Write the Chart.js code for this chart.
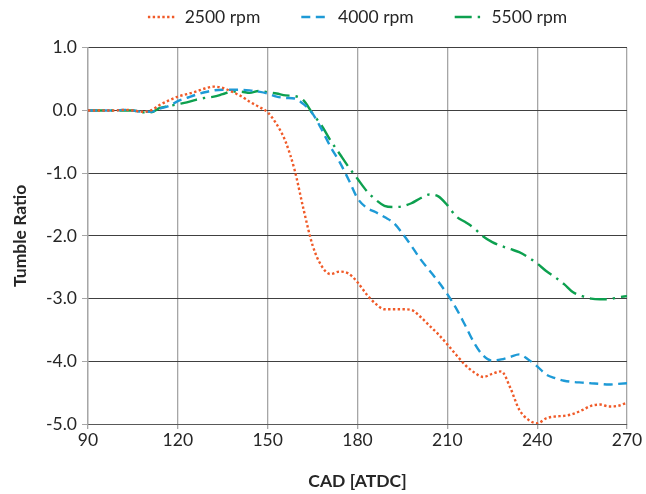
<!DOCTYPE html>
<html>
<head>
<meta charset="utf-8">
<script src="https://cdn.jsdelivr.net/npm/chart.js@4/dist/chart.umd.min.js"></script>
<style>
html,body{margin:0;padding:0;background:#ffffff;}
#wrap{width:646px;height:494px;}
</style>
</head>
<body>
<div id="wrap"><canvas id="c" width="646" height="494"></canvas></div>
<script>
// CAD [ATDC] sample positions (degrees)
const cad = [
  90, 93, 96, 99, 102, 105, 108, 111, 114, 117,
  120, 123, 126, 129, 132, 135, 138, 141, 144, 147,
  150, 153, 156, 159, 162, 165, 168, 171, 174, 177,
  180, 183, 186, 189, 192, 195, 198, 201, 204, 207,
  210, 213, 216, 219, 222, 225, 228, 231, 234, 237,
  240, 243, 246, 249, 252, 255, 258, 261, 264, 267,
  270
];
const tumble2500 = [
  0, 0, 0, 0, 0.01, 0, -0.02, 0, 0.09, 0.16,
  0.22, 0.26, 0.30, 0.35, 0.38, 0.36, 0.30, 0.23, 0.14, 0.06,
  -0.03, -0.22, -0.50, -0.95, -1.58, -2.15, -2.48, -2.61, -2.57, -2.60,
  -2.74, -2.93, -3.08, -3.17, -3.17, -3.17, -3.18, -3.29, -3.43, -3.57,
  -3.73, -3.90, -4.06, -4.18, -4.25, -4.20, -4.16, -4.42, -4.77, -4.93,
  -4.99, -4.91, -4.88, -4.87, -4.84, -4.78, -4.71, -4.69, -4.72, -4.71,
  -4.66
];
const tumble4000 = [
  0, 0, 0, 0, 0.01, 0, -0.02, -0.02, 0.03, 0.07,
  0.15, 0.20, 0.25, 0.29, 0.32, 0.33, 0.33, 0.33, 0.32, 0.30,
  0.27, 0.22, 0.20, 0.19, 0.10, -0.05, -0.30, -0.58, -0.82, -1.10,
  -1.40, -1.55, -1.62, -1.70, -1.79, -1.96, -2.16, -2.37, -2.55, -2.73,
  -2.93, -3.16, -3.43, -3.71, -3.91, -3.99, -3.97, -3.93, -3.89, -3.97,
  -4.08, -4.21, -4.27, -4.31, -4.33, -4.34, -4.35, -4.36, -4.37, -4.36,
  -4.35
];
const tumble5500 = [
  0, 0, 0, 0, 0, 0, -0.03, -0.03, 0.04, 0.07,
  0.10, 0.13, 0.17, 0.20, 0.22, 0.26, 0.30, 0.30, 0.28, 0.31,
  0.29, 0.27, 0.24, 0.23, 0.16, -0.05, -0.24, -0.48, -0.69, -0.90,
  -1.09, -1.28, -1.42, -1.52, -1.54, -1.53, -1.48, -1.40, -1.34, -1.37,
  -1.51, -1.69, -1.78, -1.88, -2.01, -2.10, -2.16, -2.21, -2.26, -2.34,
  -2.44, -2.56, -2.66, -2.77, -2.90, -2.96, -3.00, -3.01, -3.01, -2.98,
  -2.96
];
const seriesLabels = ['2500 rpm', '4000 rpm', '5500 rpm'];
const xTickValues = [90, 120, 150, 180, 210, 240, 270];
const yTickValues = [1, 0, -1, -2, -3, -4, -5];
const xTitle = 'CAD [ATDC]';
const yTitle = 'Tumble Ratio';

const FONT = 'Lato, "Open Sans", "DejaVu Sans", sans-serif';
const FS = 17.5;
const TEXT = '#262626';

function pts(ys) { return cad.map((x, i) => ({ x: x, y: ys[i] })); }

const datasets = [
  { label: seriesLabels[0], data: pts(tumble2500), borderColor: '#F05A28', borderWidth: 2.4, borderDash: [2.4, 2.4] },
  { label: seriesLabels[1], data: pts(tumble4000), borderColor: '#1E9AD6', borderWidth: 2.4, borderDash: [9, 5.5] },
  { label: seriesLabels[2], data: pts(tumble5500), borderColor: '#0DA04F', borderWidth: 2.4, borderDash: [17, 6, 2.4, 6] }
].map(d => Object.assign(d, {
  pointRadius: 0, pointHoverRadius: 0, fill: false,
  cubicInterpolationMode: 'monotone', borderCapStyle: 'butt', backgroundColor: d.borderColor
}));

new Chart(document.getElementById('c'), {
  type: 'line',
  data: { datasets: datasets },
  options: {
    responsive: false,
    animation: false,
    events: [],
    layout: { padding: { top: -32.75, right: 19, bottom: 0, left: 0 } },
    plugins: {
      tooltip: { enabled: false },
      legend: {
        display: true,
        position: 'top',
        fullSize: false,
        labels: {
          usePointStyle: true,
          pointStyle: 'line',
          pointStyleWidth: 28,
          padding: 41,
          color: TEXT,
          font: { family: FONT, size: FS },
          generateLabels: (chart) => chart.data.datasets.map((ds, i) => ({
            text: ds.label,
            fillStyle: ds.borderColor,
            strokeStyle: ds.borderColor,
            lineWidth: ds.borderWidth,
            lineDash: ds.borderDash,
            lineCap: 'butt',
            pointStyle: 'line',
            fontColor: TEXT,
            hidden: false,
            datasetIndex: i
          }))
        }
      },
      subtitle: {
        display: true,
        text: '',
        weight: 500,
        padding: 0,
        font: { size: 10, lineHeight: 1.2 }
      }
    },
    scales: {
      x: {
        type: 'linear',
        min: 90, max: 270,
        afterBuildTicks: (s) => { s.ticks = xTickValues.map(v => ({ value: v })); },
        afterFit: (s) => { s.height = 70; },
        ticks: { color: TEXT, font: { family: FONT, size: FS }, padding: 1, maxRotation: 0 },
        grid: { color: '#a6a6a6', lineWidth: 1.3, tickLength: 5, tickColor: '#a6a6a6' },
        border: { display: true, color: '#595959', width: 1 },
        title: { display: true, text: xTitle, color: TEXT, font: { family: FONT, size: FS, weight: 'bold' }, padding: { top: 0, bottom: 2.5 } }
      },
      y: {
        type: 'linear',
        min: -5, max: 1,
        afterBuildTicks: (s) => { s.ticks = yTickValues.map(v => ({ value: v })); },
        afterFit: (s) => { s.width = 88; },
        ticks: { color: TEXT, font: { family: FONT, size: FS }, padding: 5, callback: (v) => Number(v).toFixed(1) },
        grid: { color: '#404040', lineWidth: 1, tickLength: 6, tickColor: '#a6a6a6' },
        border: { display: true, color: '#a6a6a6', width: 1.3 },
        title: { display: true, text: yTitle, color: TEXT, font: { family: FONT, size: FS, weight: 'bold' }, padding: { top: 9.5, bottom: 0 } }
      }
    }
  }
});
</script>
</body>
</html>
